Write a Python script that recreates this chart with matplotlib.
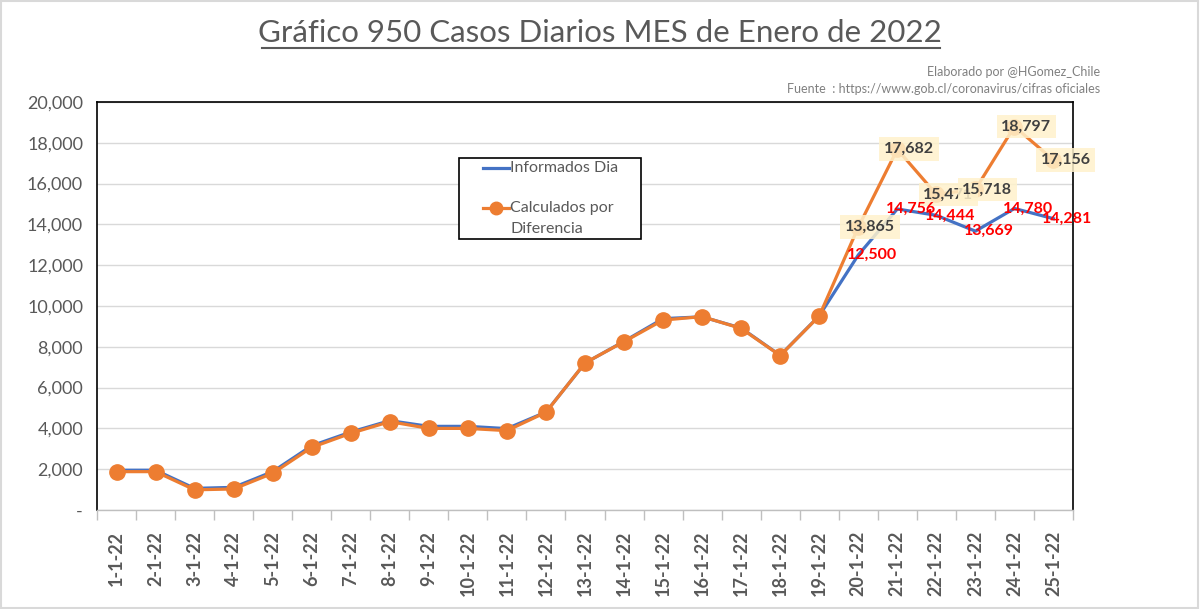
import numpy as np
import matplotlib.pyplot as plt
from matplotlib.ticker import FuncFormatter, FixedLocator
from matplotlib.patches import Rectangle
from matplotlib.lines import Line2D

plt.rcParams['font.family'] = ['Lato', 'DejaVu Sans']

# Datos
fechas = ['%d-1-22' % d for d in range(1, 26)]
informados = [1950, 1950, 1060, 1110, 1880, 3150, 3820, 4380, 4100, 4100, 3990,
              4800, 7200, 8270, 9380, 9470, 8920, 7580, 9520,
              12500, 14756, 14444, 13669, 14780, 14281]
calculados = [1880, 1880, 990, 1030, 1800, 3070, 3760, 4330, 4000, 4000, 3890,
              4790, 7210, 8250, 9310, 9480, 8900, 7570, 9510,
              13865, 17682, 15471, 15718, 18797, 17156]
desde = 19  # etiquetas a partir del dia 20

gris = '#595959'
azul = '#4472C4'
naranja = '#ED7D31'

W, H = 1200, 609
fig = plt.figure(figsize=(12, 6.09), dpi=100)
ax = fig.add_axes([97/W, 1 - 510/H, (1073 - 97)/W, (510 - 102)/H])

x = np.arange(len(fechas))
ax.plot(x, informados, color=azul, lw=2.3, zorder=3)
ax.plot(x, calculados, color=naranja, lw=2.3, marker='o', markersize=11, zorder=4)

# etiquetas de datos
for i in range(desde, len(fechas)):
    ax.annotate(f'{calculados[i]:,}', (x[i], calculados[i]), xytext=(12, 0),
                textcoords='offset pixels', ha='center', va='center',
                fontsize=11.5, fontweight='bold', color='#404040', zorder=5,
                bbox=dict(boxstyle='square,pad=0.3', fc='#FFF2CC', ec='none', alpha=0.85))
for i in range(desde, len(fechas)):
    ax.annotate(f'{informados[i]:,}', (x[i], informados[i]), xytext=(14, 0),
                textcoords='offset pixels', ha='center', va='center',
                fontsize=11.5, fontweight='bold', color='#FF0000', zorder=6)

ax.set_xlim(-0.5, len(fechas) - 0.5)
ax.set_ylim(0, 20000)
ax.set_yticks(np.arange(0, 20001, 2000))
ax.yaxis.set_major_formatter(FuncFormatter(lambda v, p: '-' if v == 0 else f'{int(v):,}'))
ax.set_xticks(x)
ax.set_xticklabels(fechas, rotation=90, fontsize=13, fontweight='bold', color=gris)
ax.xaxis.set_minor_locator(FixedLocator(np.arange(-0.5, len(fechas), 1)))
ax.tick_params(axis='x', which='major', length=0, pad=15)
ax.tick_params(axis='x', which='minor', length=7, color='#BFBFBF', width=1)
ax.tick_params(axis='y', length=0, labelsize=13, labelcolor=gris, pad=10)

ax.grid(axis='y', color='#D9D9D9', lw=1)
ax.set_axisbelow(True)
for s in ['left', 'top', 'right']:
    ax.spines[s].set_color('black')
    ax.spines[s].set_linewidth(1.2)
ax.spines['bottom'].set_color('#BFBFBF')
ax.spines['bottom'].set_linewidth(1)

# leyenda dibujada a mano
def fx(px):
    return px / W

def fy(py):
    return 1 - py / H

fig.add_artist(Rectangle((fx(459), fy(239)), fx(641) - fx(459), fy(158) - fy(239),
                         transform=fig.transFigure, fc='white', ec='black', lw=1.2, zorder=10))
fig.add_artist(Line2D([fx(483), fx(509)], [fy(168), fy(168)], color=azul, lw=2.3, zorder=11))
fig.add_artist(Line2D([fx(483), fx(509)], [fy(208), fy(208)], color=naranja, lw=2.3, zorder=11))
fig.add_artist(Line2D([fx(496)], [fy(208)], color=naranja, marker='o', markersize=9, zorder=12))
fig.text(fx(510), fy(168), 'Informados Dia', ha='left', va='center', fontsize=11.5,
         color=gris, zorder=12)
fig.text(fx(510), fy(208), 'Calculados por', ha='left', va='center', fontsize=11.5,
         color=gris, zorder=12)
fig.text(fx(510), fy(229), 'Diferencia', ha='left', va='center', fontsize=11.5,
         color=gris, zorder=12)

# titulo y fuentes
fig.text(0.5, fy(33), 'Gráfico 950 Casos Diarios MES de Enero de 2022',
         ha='center', va='center', fontsize=22.5, color=gris)
fig.add_artist(Line2D([fx(262), fx(940)], [fy(48), fy(48)], color=gris, lw=1.5))
fig.text(fx(1100), fy(72), 'Elaborado por @HGomez_Chile',
         ha='right', va='center', fontsize=9, color='#808080')
fig.text(fx(1100), fy(89), 'Fuente  : https://www.gob.cl/coronavirus/cifras oficiales',
         ha='right', va='center', fontsize=9, color='#808080')

# marco exterior
fig.add_artist(Rectangle((0.001, 0.002), 0.997, 0.996, transform=fig.transFigure,
                         fill=False, ec='#D9D9D9', lw=1.5))

plt.savefig('out.png', dpi=100)
